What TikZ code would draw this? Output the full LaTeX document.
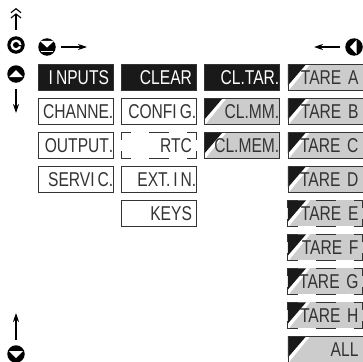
\documentclass[tikz,border=0pt]{standalone}
\usepackage{fontspec}
\usetikzlibrary{arrows.meta}
\newfontfamily\narrowfont[FakeStretch=0.78]{Liberation Sans}
\newcommand{\lastdot}{\rlap{.}}
\newcommand{\ikern}{\kern3pt}
\tikzset{
  menubox/.style={minimum width=75pt, minimum height=26pt, inner sep=0pt, anchor=north west,
    text width=66pt, align=right, font=\narrowfont\fontsize{20}{20}\selectfont, text=black!80, draw=black!80, line width=0.9pt},
  activebox/.style={menubox, fill=black!90, text=white},
  gapbox/.style={menubox, draw=none},
  tarebox/.style={menubox, fill=black!20, path picture={
    \fill[white] (path picture bounding box.north west) -- ++(22,0) -- ++(-22,27) -- cycle;
    \fill[black!90] (path picture bounding box.north west) -- ++(18,0) -- ++(-18,21) -- cycle;}},
  keydot/.style={circle, fill=black, minimum size=17.5pt, inner sep=0pt},
  keyarrow/.style={-{Stealth[length=9pt,width=6pt]}, line width=1.1pt, shorten <=5pt},
}
% short pieces along top and bottom, for the broken frames
\newcommand{\brokenframe}[1]{
  \draw[line width=0.9pt, black!80] (#1.north west) ++(0,8) -- ++(0,-8) -- ++(10,0) ++(18,0) -- ++(20,0) ++(18,0) -- ++(9,0) -- ++(0,8);
  \draw[line width=0.9pt, black!80] (#1.south west) ++(0,-8) -- ++(0,8) -- ++(10,0) ++(18,0) -- ++(20,0) ++(18,0) -- ++(9,0) -- ++(0,-8);
}
\begin{document}
\begin{tikzpicture}[x=1pt, y=-1pt]
\useasboundingbox (0,0) rectangle (363,361);
% first column
\node[activebox] (inputs) at (38,64) {I\ikern NPUTS};
\node[menubox] (channe) at (38,98) {CHANNE\lastdot};
\node[menubox] (output) at (38,132) {OUTPUT\lastdot};
\node[menubox] (servic) at (38,166) {SERVI\ikern C\lastdot};
% second column
\node[activebox] (clear) at (121,64) {CLEAR};
\node[menubox] (config) at (121,98) {CONFI\ikern G\lastdot};
\node[gapbox] (rtc) at (121,132) {RTC};
\node[menubox] (extin) at (121,166) {EXT.\ikern I\ikern N\lastdot};
\node[menubox] (keys) at (121,200) {KEYS};
\brokenframe{rtc}
% third column
\node[activebox] (cltar) at (204,64) {CL.TAR\lastdot};
\node[tarebox] (clmm) at (204,98) {CL.MM\lastdot};
\node[tarebox] (clmem) at (204,132) {CL.MEM\lastdot};
% tare column
\foreach \name/\row/\label in {a/0/TARE A, b/1/TARE B, c/2/TARE C, d/3/TARE D, i/8/ALL}{
  \node[tarebox] (tare\name) at (287.5,64+34*\row) {\label};
}
\foreach \name/\row/\label in {e/4/TARE E, f/5/TARE F, g/6/TARE G, h/7/TARE H}{
  \node[tarebox, draw=none] (tare\name) at (287.5,64+34*\row) {\label};
  \brokenframe{tare\name}
}
% keys and arrows
\node[keydot] (keyc) at (16,45) {};
\fill[white] (keyc) circle (5.6pt);
\fill[black] (keyc) circle (3pt);
\draw[black, line width=1.2pt] (keyc.center) -- ++(6pt,-1pt);
\coordinate (upend) at (16,8);
\draw[-{Straight Barb[length=4pt,width=10pt] . Straight Barb[length=4pt,width=10pt]}, line width=1.1pt] (16,30) -- (upend);
\node[keydot] (keyup) at (16,74) {};
\fill[white] (9,77) -- (23,77) -- (16,70) -- cycle;
\coordinate (downend) at (16,113);
\draw[keyarrow, shorten <=6pt] (keyup) -- (downend);
\node[keydot] (keydown) at (16,354) {};
\fill[white] (9,351) -- (23,351) -- (16,358) -- cycle;
\coordinate (upendb) at (16,313);
\draw[keyarrow] (keydown) -- (upendb);
\node[keydot] (keyok) at (47,47) {};
\fill[white] (40,41) -- (54,41) -- (47,47.5) -- cycle;
\fill[white] (41,50.5) rectangle (53,52);
\coordinate (rightend) at (87,47);
\draw[keyarrow] (keyok) -- (rightend);
\node[keydot] (keyleft) at (354,47) {};
\fill[white] (356.5,40) -- (356.5,54) -- (350,47) -- cycle;
\coordinate (leftend) at (314,47);
\draw[keyarrow] (keyleft) -- (leftend);
\end{tikzpicture}
\end{document}
